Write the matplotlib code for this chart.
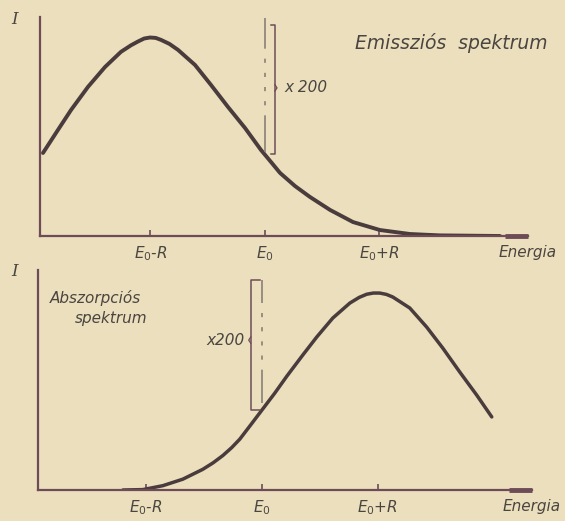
"""
Emissziós és abszorpciós spektrum (E0, R egységekben)
"""

import matplotlib
matplotlib.use('Agg')
import matplotlib.pyplot as plt
import matplotlib.transforms as mtransforms

plt.rcParams['font.family'] = ['DejaVu Sans']
plt.rcParams['mathtext.fontset'] = 'dejavusans'

# energia: (E - E0) / R, intenzitás: a csúcsra normálva
emis_energy = [-1.939, -1.808, -1.694, -1.546, -1.397, -1.258, -1.170, -1.109, -1.055,
               -1.004, -0.955, -0.908, -0.835, -0.760, -0.611, -0.472, -0.323, -0.175,
               -0.035, 0.052, 0.131, 0.262, 0.393, 0.568, 0.769, 1.004, 1.266, 1.528,
               2.052]
emis_intensity = [0.417, 0.533, 0.633, 0.749, 0.849, 0.925, 0.958, 0.977, 0.992,
                  0.997, 0.995, 0.985, 0.965, 0.935, 0.859, 0.759, 0.648, 0.543,
                  0.432, 0.372, 0.317, 0.251, 0.196, 0.131, 0.070, 0.030, 0.010, 0.003,
                  0.000]

abs_energy = [-1.198, -1.026, -0.853, -0.681, -0.509, -0.420, -0.336, -0.260, -0.190,
              -0.103, 0.000, 0.112, 0.216, 0.353, 0.474, 0.612, 0.759, 0.840, 0.905,
              0.962, 1.017, 1.075, 1.129, 1.276, 1.422, 1.560, 1.707, 1.853, 1.983]
abs_intensity = [0.000, 0.002, 0.022, 0.055, 0.105, 0.138, 0.175, 0.215, 0.258,
                 0.325, 0.405, 0.492, 0.578, 0.685, 0.777, 0.873, 0.949, 0.978, 0.994,
                 1.000, 1.000, 0.993, 0.980, 0.924, 0.827, 0.721, 0.599, 0.482, 0.371]

tick_pos = [-1, 0, 1]
tick_labels = [r'$E_0$-R', r'$E_0$', r'$E_0$+R']

BG = '#ebdfbd'
CURVE = '#4a3c3c'
AXIS = '#6e4c57'
TEXT = '#4a4540'
GUIDE = '#8a8078'

W, H = 565, 521
fig = plt.figure(figsize=(W / 100, H / 100), dpi=100, facecolor=BG)


def px_axes(left, right, top, bottom):
    return fig.add_axes([left / W, 1 - bottom / H, (right - left) / W, (bottom - top) / H])


def px_text(x, y, s, **kw):
    kw.setdefault('style', 'italic')
    kw.setdefault('color', TEXT)
    fig.text(x / W, 1 - y / H, s, **kw)


def style_axes(ax, xlim, ylim):
    ax.set_facecolor('none')
    ax.set_xlim(*xlim)
    ax.set_ylim(*ylim)
    for s in ['top', 'right']:
        ax.spines[s].set_visible(False)
    for s in ['left', 'bottom']:
        ax.spines[s].set_color(AXIS)
        ax.spines[s].set_linewidth(1.6)
    ax.set_yticks([])
    ax.set_xticks(tick_pos, tick_labels)
    ax.tick_params(axis='x', direction='in', length=4, width=1.2, color=AXIS,
                   pad=6, labelsize=11, labelcolor=TEXT)
    for lab in ax.get_xticklabels():
        lab.set_style('italic')
    # vastagabb nyílvég
    ax.plot([xlim[1] - 0.2, xlim[1]], [0, 0], color=AXIS, lw=3.5,
            solid_capstyle='butt', clip_on=False)
    trans = mtransforms.blended_transform_factory(ax.transData, ax.transAxes)
    ax.text(xlim[1], -0.075, 'Energia', transform=trans, ha='center', va='center',
            fontsize=11, style='italic', color=TEXT)


# 1. emissziós spektrum
ax1 = px_axes(40, 528, 17, 236)
style_axes(ax1, (-1.965, 2.297), (0, 1.10))
ax1.plot(emis_energy, emis_intensity, color=CURVE, lw=2.8, solid_capstyle='round',
         solid_joinstyle='round')
ax1.plot([0, 0], [0.42, 1.095], color=GUIDE, lw=1.2,
         dashes=(22, 6, 2.5, 6, 2.5, 6, 2.5, 6, 2.5, 6, 60, 10))
ax1.plot([0.052, 0.087, 0.087, 0.052], [1.06, 1.06, 0.412, 0.412], color=AXIS, lw=1.1)
ax1.plot([0.087, 0.105, 0.087], [0.76, 0.744, 0.728], color=AXIS, lw=0.9)
ax1.text(0.17, 0.744, 'x 200', fontsize=11, style='italic', color=TEXT, va='center')
px_text(451, 43, 'Emissziós  spektrum', fontsize=13.5, ha='center', va='center')

# 2. abszorpciós spektrum
ax2 = px_axes(38, 532, 270, 490)
style_axes(ax2, (-1.93, 2.33), (0, 1.117))
ax2.plot(abs_energy, abs_intensity, color=CURVE, lw=2.5, solid_capstyle='round',
         solid_joinstyle='round')
ax2.plot([0, 0], [0.44, 1.066], color=GUIDE, lw=1.2,
         dashes=(20, 6, 2.5, 6, 2.5, 6, 2.5, 6, 2.5, 6, 60, 10))
ax2.plot([-0.017, -0.095, -0.095, -0.017], [1.066, 1.066, 0.406, 0.406], color=AXIS, lw=1.1)
ax2.plot([-0.095, -0.113, -0.095], [0.777, 0.761, 0.745], color=AXIS, lw=0.9)
ax2.text(-0.15, 0.761, 'x200', fontsize=11, style='italic', color=TEXT,
         ha='right', va='center')
px_text(50, 298, 'Abszorpciós', fontsize=11, ha='left', va='center')
px_text(75, 318, 'spektrum', fontsize=11, ha='left', va='center')

# I tengelyfeliratok
px_text(15, 20, 'I', fontsize=12, family='DejaVu Serif', ha='center', va='center')
px_text(15, 272, 'I', fontsize=12, family='DejaVu Serif', ha='center', va='center')

fig.savefig('out.png', dpi=100, facecolor=BG)
